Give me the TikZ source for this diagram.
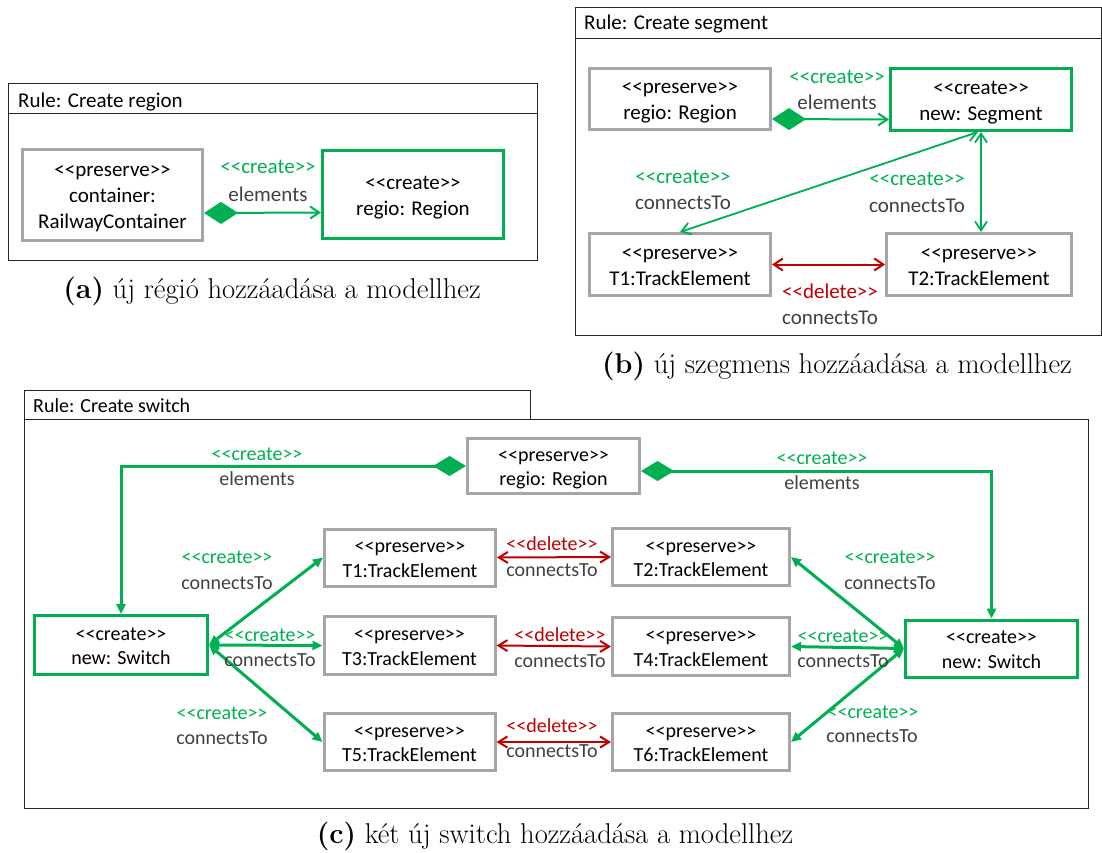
\documentclass[tikz,border=0pt]{standalone}
\usepackage{fontspec}
\newfontfamily\calfont{Carlito}
\usetikzlibrary{arrows.meta,calc}
\definecolor{cgreen}{HTML}{00B050}
\definecolor{cred}{HTML}{C00000}
\definecolor{cgray}{HTML}{A6A6A6}
\definecolor{ctext}{HTML}{404040}
\newcommand\guil[1]{<{}<#1>{}>}
% struts on first and last line keep the text block evenly placed in each box
\newcommand\twoln[2]{\rule{0pt}{1em}#1\\#2\rule[-0.27em]{0pt}{0.27em}}
\newcommand\threeln[3]{\rule{0pt}{1em}#1\\#2\\#3\rule[-0.27em]{0pt}{0.27em}}

\begin{document}
\begin{tikzpicture}[x=1pt,y=-1pt,
  fab/.style={font=\calfont\fontsize{21}{26}\selectfont},
  fc/.style={font=\calfont\fontsize{20}{24.5}\selectfont},
  obj/.style={draw, line width=3pt, fill=white, align=center, inner sep=0pt},
  keep/.style={obj, draw=cgray},
  make/.style={obj, draw=cgreen},
  frame/.style={draw=black!85, line width=1pt},
  lga/.style={fab, inner sep=0pt, text height=16.7pt, text depth=4.2pt},
  lgc/.style={fc, inner sep=0pt, text height=16pt, text depth=4pt},
  title/.style={anchor=west},
  grn/.style={text=cgreen},
  dkg/.style={text=ctext},
  rd/.style={text=cred},
  capt/.style={font=\fontsize{28.6}{32}\selectfont, inner sep=0pt},
  barb/.tip={Straight Barb[length=9pt,width=12pt]},
  tri/.tip={Triangle[length=10pt,width=9pt]},
  compab/.style={draw=cgreen, line width=2pt, {Diamond[length=34pt,width=22pt]}-{barb}},
  gab/.style={draw=cgreen, line width=1.8pt, {barb}-{barb}},
  rab/.style={draw=cred, line width=2pt, {barb}-{barb}},
  compc/.style={draw=cgreen, line width=3pt, {Diamond[length=33pt,width=20pt]}-{tri}},
  gc/.style={draw=cgreen, line width=3pt, {tri}-{tri}},
  rc/.style={draw=cred, line width=2pt, {Straight Barb[length=9pt,width=11pt]}-{Straight Barb[length=9pt,width=11pt]}}
]
\useasboundingbox (0,0) rectangle (1102,852);

% ---------- (a) Create region ----------
\draw[frame] (8,83) rectangle (537,260);
\draw[frame] (8,113) -- (537,113);
\node[lga, title] (ta) at (18,101) {Rule: Create region};
\node[keep, fab, minimum width=180pt, minimum height=91pt] (cont) at (112.5,195) {\threeln{\guil{preserve}}{container:}{RailwayContainer}};
\node[make, fab, minimum width=181pt, minimum height=88pt] (regA) at (413,194.5) {\twoln{\guil{create}}{regio: Region}};
\draw[compab] ($(cont.east)+(0,18)$) -- ($(regA.west)+(0,18)$);
\node[lga, grn] (la1) at (268,167) {\guil{create}};
\node[lga, dkg] (la2) at (268,195) {elements};
\node[capt] (capa) at (272,291) {\textbf{(a)} új régió hozzáadása a modellhez};

% ---------- (b) Create segment ----------
\draw[frame] (575,7) rectangle (1101,335);
\draw[frame] (575,38) -- (1101,38);
\node[lga, title] (tb) at (584,23) {Rule: Create segment};
\node[keep, fab, minimum width=181pt, minimum height=61pt] (regB) at (680,99) {\twoln{\guil{preserve}}{regio: Region}};
\node[make, fab, minimum width=181pt, minimum height=62pt] (seg) at (981,99.5) {\twoln{\guil{create}}{new: Segment}};
\node[keep, fab, minimum width=181pt, minimum height=62pt] (t1b) at (680,264.5) {\twoln{\guil{preserve}}{T1:TrackElement}};
\node[keep, fab, minimum width=185pt, minimum height=62pt] (t2b) at (979,264.5) {\twoln{\guil{preserve}}{T2:TrackElement}};
\draw[compab] ($(regB.east)+(0,20)$) -- ($(seg.west)+(0,20)$);
\draw[gab] ($(seg.south)+(-3,0)$) -- (t1b.north);
\draw[gab] (seg.south) -- (seg.south |- t2b.north);
\draw[rab] (t1b.east) -- (t2b.west);
\node[lga, grn] (lb1) at (837,77) {\guil{create}};
\node[lga, dkg] (lb2) at (837,103) {elements};
\node[lga, grn] (lb3) at (683,177) {\guil{create}};
\node[lga, dkg] (lb4) at (683,203) {connectsTo};
\node[lga, grn] (lb5) at (917,179) {\guil{create}};
\node[lga, dkg] (lb6) at (917,206) {connectsTo};
\node[lga, rd] (lb7) at (830,292) {\guil{delete}};
\node[lga, dkg] (lb8) at (830,318) {connectsTo};
\node[capt] (capb) at (837,366) {\textbf{(b)} új szegmens hozzáadása a modellhez};

% ---------- (c) Create switch ----------
\draw[frame] (24,390) rectangle (530,419);
\draw[frame] (24,419) rectangle (1088,808);
\node[lgc, title] (tc) at (33,406) {Rule: Create switch};
\node[keep, fc, minimum width=172pt, minimum height=55pt] (regC) at (553.5,466) {\twoln{\guil{preserve}}{regio: Region}};
\node[make, fc, minimum width=173pt, minimum height=59pt] (swL) at (121,645) {\twoln{\guil{create}}{new: Switch}};
\node[make, fc, minimum width=172pt, minimum height=57pt] (swR) at (991.5,648.5) {\twoln{\guil{create}}{new: Switch}};
\node[keep, fc, minimum width=171pt, minimum height=57pt] (T1) at (410,557.5) {\twoln{\guil{preserve}}{T1:TrackElement}};
\node[keep, fc, minimum width=171pt, minimum height=58pt] (T3) at (409.5,645.5) {\twoln{\guil{preserve}}{T3:TrackElement}};
\node[keep, fc, minimum width=171pt, minimum height=57pt] (T5) at (409.5,742) {\twoln{\guil{preserve}}{T5:TrackElement}};
\node[keep, fc, minimum width=177pt, minimum height=57pt] (T2) at (701,557) {\twoln{\guil{preserve}}{T2:TrackElement}};
\node[keep, fc, minimum width=177pt, minimum height=58pt] (T4) at (701,646.5) {\twoln{\guil{preserve}}{T4:TrackElement}};
\node[keep, fc, minimum width=177pt, minimum height=57pt] (T6) at (701,742) {\twoln{\guil{preserve}}{T6:TrackElement}};

\draw[compc] (regC.west) -- (swL.north |- regC.west) -- (swL.north);
\coordinate (rr) at ($(regC.east)+(0,5)$);
\draw[compc] (rr) -- (swR.north |- rr) -- (swR.north);

\draw[gc] (swL.east) -- (T1.west);
\draw[gc] (swL.east) -- (T3.west);
\draw[gc] (swL.east) -- (T5.west);
\draw[gc] (swR.west) -- (T2.east);
\draw[gc] (swR.west) -- (T4.east);
\draw[gc] (swR.west) -- (T6.east);
\draw[rc] (T1.east) -- (T2.west);
\draw[rc] (T3.east) -- (T4.west);
\draw[rc] (T5.east) -- (T6.west);

\node[lgc, grn] (lc1) at (257,454) {\guil{create}};
\node[lgc, dkg] (lc2) at (257,479) {elements};
\node[lgc, grn] (lc3) at (822,458) {\guil{create}};
\node[lgc, dkg] (lc4) at (822,483) {elements};
\node[lgc, grn] (lc5) at (227,557) {\guil{create}};
\node[lgc, dkg] (lc6) at (227,583) {connectsTo};
\node[lgc, grn] (lc7) at (270,635) {\guil{create}};
\node[lgc, dkg] (lc8) at (270,660) {connectsTo};
\node[lgc, grn] (lc9) at (222,713) {\guil{create}};
\node[lgc, dkg] (lc10) at (222,738) {connectsTo};
\node[lgc, grn] (lc11) at (890,557) {\guil{create}};
\node[lgc, dkg] (lc12) at (890,583) {connectsTo};
\node[lgc, grn] (lc13) at (843,636) {\guil{create}};
\node[lgc, dkg] (lc14) at (843,661) {connectsTo};
\node[lgc, grn] (lc15) at (873,712) {\guil{create}};
\node[lgc, dkg] (lc16) at (872,736) {connectsTo};
\node[lgc, rd] (lc17) at (552,544) {\guil{delete}};
\node[lgc, dkg] (lc18) at (552,570) {connectsTo};
\node[lgc, rd] (lc19) at (560,635) {\guil{delete}};
\node[lgc, dkg] (lc20) at (560,661) {connectsTo};
\node[lgc, rd] (lc21) at (552,726) {\guil{delete}};
\node[lgc, dkg] (lc22) at (552,751) {connectsTo};
\node[capt] (capc) at (555,836) {\textbf{(c)} két új switch hozzáadása a modellhez};
\end{tikzpicture}
\end{document}
